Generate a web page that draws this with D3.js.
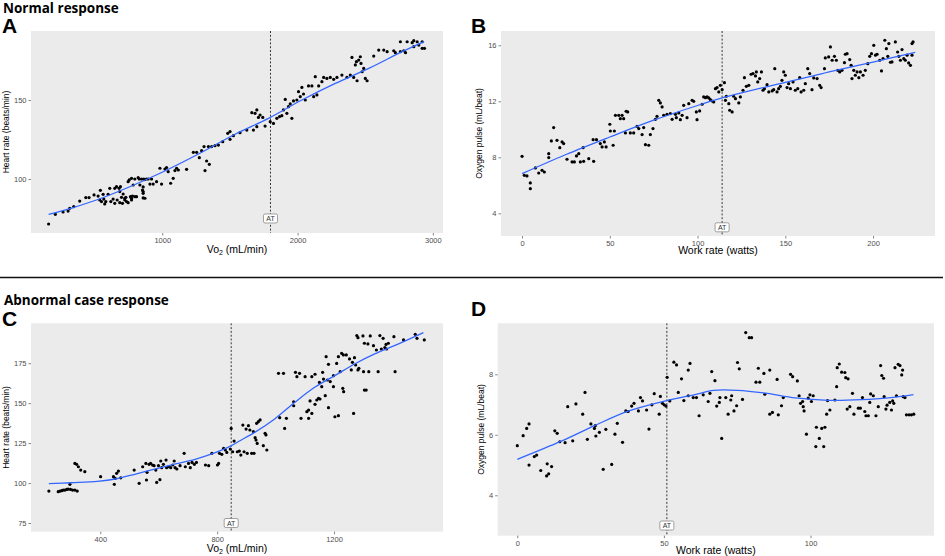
<!DOCTYPE html>
<html>
<head>
<meta charset="utf-8">
<script src="https://cdn.jsdelivr.net/npm/d3@7"></script>
<style>
  body { margin: 0; background: #fff; }
  svg { display: block; }
</style>
</head>
<body>
<svg id="chart" width="945" height="556"></svg>
<script>
// --- data ---
// A: VO2 (mL/min) vs heart rate (beats/min), normal response
const normalHrPoints = [
  [160,71.5],[210,77.6],[267,79.1],[304,79.7],[316,81.4],[346,82.5],[390,86],[435,88.2],[459,88.2],
  [496,89.9],[526,89.2],[543,92.8],[538,86.7],[551,85.7],[563,90.3],[568,87.3],[583,85.7],[575,84.2],
  [600,90.3],[612,94.1],[620,85.7],[637,87.3],[649,94.1],[649,84.6],[662,95.1],[667,86.7],[681,94.1],
  [686,92],[686,85],[691,95.1],[699,88.4],[706,84.6],[711,90.5],[723,86.7],[723,87.8],[731,88.4],
  [736,85.7],[748,98.3],[748,85],[756,99.4],[765,88.8],[773,86.7],[773,87.8],[773,100.4],[780,89.2],
  [785,96.2],[797,100],[798,88.8],[810,88.8],[822,100.8],[830,100],[835,96.2],[847,100],[854,93],
  [859,95],[859,92],[859,88],[859,90.9],[864,100],[870,99.6],[872,87.8],[884,100],[896,100],[909,96.8],
  [921,100],[933,96.8],[958,98.3],[983,106.8],[995,96.8],[1020,106.3],[1032,107.2],[1044,104.6],
  [1062,97.3],[1081,100.4],[1094,105.3],[1106,106.8],[1119,105.7],[1180,106.1],[1230,116.9],
  [1254,116.9],[1274,113.5],[1291,117.9],[1309,120.5],[1316,105.3],[1328,111.4],[1348,109.3],
  [1341,120.5],[1365,120.5],[1390,121.1],[1415,121.5],[1447,123.6],[1484,128.9],[1501,125.1],
  [1501,130],[1526,127.4],[1575,129.3],[1625,131],[1662,142],[1674,131],[1686,141.6],[1699,143.7],
  [1699,133.1],[1711,139],[1723,140.5],[1743,139],[1760,133.5],[1798,136.3],[1822,135.2],[1847,138.4],
  [1867,139.5],[1884,140.1],[1896,143.7],[1909,150.4],[1921,141.6],[1933,145.8],[1946,147.5],
  [1958,138.4],[1970,149.4],[1995,150],[2007,155.3],[2020,152.1],[2032,158],[2044,153.8],[2057,150],
  [2081,158.9],[2106,158.9],[2119,152.1],[2131,164.8],[2143,153.2],[2156,158.9],[2180,161.6],
  [2193,164.3],[2217,163.7],[2242,164.3],[2267,163.1],[2291,164.3],[2328,165.8],[2365,164.3],
  [2390,165.8],[2402,177],[2415,164.3],[2427,172.2],[2435,174.3],[2440,162.2],[2452,175.3],
  [2464,177.4],[2469,173.2],[2477,167.9],[2489,170],[2501,163.7],[2514,162.2],[2563,177.8],
  [2600,181.6],[2637,181.6],[2662,180.6],[2711,181.2],[2723,180],[2760,180.6],[2785,181.2],
  [2798,180],[2760,186.9],[2810,186.9],[2847,186.3],[2859,187.6],[2859,183.8],[2884,186.9],
  [2896,184.8],[2921,182.7],[2921,186.9],[2938,182.7]
];
const normalHrFit = [
  [160,77.6],[330,81.6],[514,86.7],[760,95.1],[1007,104.6],[1254,115.2],[1538,128.3],[1785,138.4],
  [2032,150],[2279,160.5],[2526,170],[2773,180.6],[2935,187]
];

// B: work rate (watts) vs oxygen pulse (mL/beat), normal response
const normalPulsePoints = [
  [0,8.07],[1.3,6.71],[2.8,6.67],[4.7,6.17],[4.7,5.76],[7.6,7.24],[9.5,6.88],[11.4,7.07],[12.7,6.95],
  [15.2,8.26],[15.2,7.98],[16.7,9.17],[18,10.12],[19.9,9.21],[21.5,8.69],[22.8,9.1],[23.7,8.98],
  [25.6,7.86],[28.5,7.67],[29.8,7.67],[31,8.1],[32.3,8.26],[33.2,7.67],[34.8,8.69],[35.1,7.71],
  [38,7.9],[40.5,9.26],[40.8,7.71],[42.4,9.26],[44.6,8.98],[45.6,8.74],[46.9,9.1],[47.9,8.74],
  [50,10.36],[50.3,9.88],[51.9,8.86],[52.6,9.88],[53.2,11],[55.1,11],[56,10.76],[57,11],[57.9,10.76],
  [58.9,9.74],[59.3,11.29],[60.2,11.24],[61.7,9.74],[63.6,9.74],[65.5,10.21],[66.5,10.05],[68.4,9.62],
  [69.3,10.12],[70.3,8.9],[72.2,8.86],[73.1,9.62],[74.6,10.05],[76,10.71],[76.9,10.93],[77.9,12.07],
  [78.8,11.88],[79.8,11.6],[80.7,11],[82.6,11.07],[84.5,11.12],[85.5,10.71],[87.4,11.07],[87.9,10.83],
  [89.3,11.17],[90.2,10.69],[91.2,11],[92.1,11.71],[94,10.83],[95,11.83],[96.9,12.07],[97.8,12],
  [99.3,11.24],[99.7,10.69],[101.2,11.31],[102.6,11.79],[103.5,12.31],[104.5,12.26],[105.4,12.31],
  [106.4,12.24],[107.3,12.12],[108.3,12.02],[109.2,11.95],[110.2,12.9],[111.1,12.98],[112.1,12.67],
  [113,13.14],[114,12.83],[115.3,13.33],[115.9,12.07],[116.4,12.36],[117.8,11.83],[118.3,11.36],
  [119.7,11.24],[120.6,12.36],[121.6,12.19],[123.5,11.88],[124.4,12.31],[125.9,12.79],[126.7,13.69],
  [127.8,13.07],[129.2,13.14],[130.5,13.93],[131.6,13.98],[133,13.81],[133.5,14.1],[134.3,13.38],
  [135.4,13.62],[136.4,14.1],[137.3,12.79],[138.1,12.9],[139.6,13.19],[140.6,12.67],[142.5,12.74],
  [143.4,12.83],[144,14.33],[145.3,12.67],[146.2,12.9],[147.2,13.07],[148.1,13.5],[149.1,14.1],
  [150,13.86],[151,12.98],[151.9,13.26],[152.9,12.9],[154.4,13.38],[155.7,12.79],[157.1,12.9],
  [158.2,13.69],[159,12.67],[160.5,12.79],[161.4,13.26],[162.8,14.33],[163.9,13.98],[165.2,12.83],
  [166.2,13.67],[168.1,13.62],[169.6,13.14],[170.4,12.98],[172.3,14.33],[172.8,15.1],[174.7,15.17],
  [175.7,15.88],[176.7,14.93],[178,15.21],[179.1,14.93],[179.9,14.21],[181,14.1],[182.3,14.21],
  [183.7,14.76],[184.2,15.36],[185.2,15.4],[186.7,14.98],[187.5,14.57],[188,13.62],[189,14.21],
  [189.9,13.86],[190.9,14.1],[191.9,13.69],[192.8,14.1],[194.3,13.86],[195.6,14.21],[197,14.69],
  [198.1,15.21],[199.1,15.4],[200.4,16],[201.4,15.29],[202.3,15.36],[203.8,14.93],[204.8,14.17],
  [205.7,15.05],[206.7,16.36],[207.6,15.76],[208.4,15.21],[209,16.12],[209.9,14.79],[210.8,14.81],
  [212.7,16.24],[214,15.52],[214.7,15.21],[215.6,14.93],[216.5,15.69],[217.5,15.05],[218.4,14.93],
  [219.4,15.29],[220.3,14.74],[221.3,14.57],[222.2,16.12],[222.8,16.24],[222.2,15.29]
];
const normalPulseFit = [
  [0,6.83],[25,8.2],[50,9.45],[75,10.65],[100,11.7],[113,12.2],[125,12.6],[150,13.35],[167,13.85],
  [175,14.1],[200,14.8],[224,15.5]
];

// C: VO2 (mL/min) vs heart rate (beats/min), abnormal case
const abnormalHrPoints = [
  [224,95],[256,94.6],[262,95],[268,95.2],[273,95.6],[279,95.6],[285,96],[290,96.2],[296,99.2],[298,96],
  [305,95.6],[313,95.6],[321,95],[313,112.3],[319,111.7],[325,110.2],[333,108.1],[347,107.1],[401,104],
  [445,104],[448,99.2],[451,102.9],[456,106.1],[462,107.5],[470,103.3],[516,108.1],[533,99.8],
  [545,110.2],[556,112.3],[558,101.9],[560,106.7],[567,111.7],[572,112.3],[579,111.3],[584,110.9],
  [590,108.1],[593,100.4],[599,110.9],[604,102.1],[607,113.8],[610,109.6],[616,111.7],[625,114.4],
  [627,109.6],[633,110.2],[641,109.6],[648,111.3],[653,113.8],[656,109.6],[662,108.8],[673,110.9],
  [687,118.6],[691,110.2],[702,112.3],[708,109.6],[714,112.9],[722,111.7],[729,112.9],[760,111.3],
  [771,110.9],[782,118.6],[801,111.3],[805,112.3],[808,118.6],[816,118],[822,121.7],[828,120.7],
  [833,119.2],[845,121.3],[848,134.2],[853,119.6],[858,126.3],[869,119.6],[876,120],[881,117.5],
  [888,136.3],[892,119.6],[899,133.8],[903,118.6],[907,135.9],[912,133.2],[918,118.6],[924,132.2],
  [926,118.6],[930,128.4],[933,126.9],[935,137.4],[937,124.8],[941,138.4],[947,139.5],[958,123.4],
  [964,131.1],[967,130.1],[970,120.7],[1010,168.7],[1014,140.9],[1027,168.7],[1031,134.2],
  [1037,140.5],[1062,150.9],[1062,148.4],[1068,169.3],[1073,166.6],[1082,168.7],[1087,140.5],
  [1101,166.6],[1107,144.7],[1113,140.5],[1113,145.7],[1118,151.4],[1124,143.6],[1124,166.6],
  [1135,168.1],[1135,149.3],[1141,152],[1147,153],[1150,163],[1152,152.6],[1158,160.3],[1161,169.3],
  [1164,165.1],[1170,154.7],[1173,179.1],[1177,164.5],[1181,147.2],[1181,174.3],[1187,163.5],
  [1198,160.3],[1198,167.2],[1203,141.5],[1209,174.9],[1215,142.2],[1215,179.1],[1221,169.7],
  [1226,181.2],[1230,159.3],[1232,180.2],[1233,157.2],[1242,180.2],[1253,177.7],[1259,170.8],
  [1263,175.6],[1267,143.6],[1270,178.5],[1274,173.9],[1278,192.3],[1282,191],[1282,170.8],
  [1285,171.8],[1299,192.1],[1301,169.7],[1304,187.5],[1304,158.2],[1310,158.2],[1316,187.1],
  [1319,169.7],[1324,192.1],[1335,186],[1345,183.3],[1351,169.7],[1357,192.3],[1362,183.9],
  [1368,190.6],[1374,184.8],[1378,186.8],[1380,183.9],[1386,187.5],[1405,191.6],[1409,169.7],
  [1438,189.6],[1478,193.1],[1484,190.6],[1509,189.6]
];
const abnormalHrFit = [
  [224,99.6],[300,100.2],[390,101],[456,102.7],[524,105.8],[593,109],[661,112.1],[730,115.2],
  [798,119.4],[844,123],[878,126.5],[930,131.9],[998,140.3],[1067,150.7],[1135,160.1],[1204,167.4],
  [1272,174.7],[1341,181],[1409,186.2],[1506,194.2]
];

// D: work rate (watts) vs oxygen pulse (mL/beat), abnormal case
const abnormalPulsePoints = [
  [0,5.64],[2,5.97],[3.2,6.21],[4,6.36],[4,5],[5.8,5.28],[6.6,5.33],[8,4.82],[10,4.64],[10.2,5.04],
  [10.7,4.71],[11.7,4.95],[12.8,6.13],[13.6,6.05],[14.5,5.77],[16.3,5.74],[17.2,6.93],[18.9,5.8],
  [20,7.02],[22.3,6.68],[23.1,7.4],[23.9,5.85],[25.1,6.36],[26.3,6.21],[26.6,6.3],[26.8,5.96],[28,6.08],
  [29.3,4.86],[30.2,6.18],[32.2,5.02],[33.3,6.02],[34.1,6.38],[35.9,5.75],[37,6.79],[37.8,6.77],
  [39,6.95],[39.8,7.04],[41.3,6.79],[42,7.23],[42.7,7.12],[44.1,6.82],[44.9,6.19],[45.9,6.99],
  [46.7,7.36],[48.4,6.68],[48.8,7.27],[49.5,7.04],[50.1,6.99],[50.7,6.95],[51.1,7.9],[52,7.12],
  [53.4,8.4],[54.3,8.31],[54.9,7.4],[56,7.85],[56.8,7.13],[58.3,8.14],[58.9,8.36],[58.3,7.29],
  [60,7.23],[61.1,7.23],[62,6.63],[63.4,7.32],[65.1,7.1],[65.7,7.37],[66.3,8.09],[67.4,7.79],
  [68,6.95],[68.9,7.07],[69.1,7.23],[69.7,5.88],[71.1,7.23],[71.9,6.68],[72.8,7.15],[73.1,7.29],
  [73.9,6.79],[74.8,6.96],[75.1,8.39],[75.7,8.18],[76.8,7.17],[77.9,9.38],[79.1,9.21],[79.9,9.21],
  [81.4,7.74],[82.2,8.2],[82.7,7.74],[84.1,8.03],[84.4,7.34],[86.1,8.14],[86.1,6.68],[87,6.74],
  [88.6,7.83],[89,6.66],[90.1,6.96],[90.7,7.23],[93.2,8],[93.9,7.92],[95.5,7.78],[96.1,7.29],
  [96.6,7.04],[97.3,7.1],[97.5,6.93],[97.8,6.79],[98.6,6.02],[99.2,7.21],[99.8,7.32],[100.3,7.1],
  [100.9,7.29],[101.8,5.61],[102,6.25],[103,5.88],[103.8,6.21],[104.5,5.61],[104.9,6.25],[105.5,6.68],
  [105.8,7.13],[106.6,6.82],[108.3,7.15],[108.9,7.59],[109.1,8.22],[109.8,8.34],[110.6,8.07],
  [111.7,8.06],[112,7.89],[112.8,7.85],[112.5,6.85],[113.4,6.93],[114.3,7.37],[114.8,6.68],
  [116.3,6.88],[117,6.88],[117.7,7.23],[118.5,6.77],[118.9,6.63],[119.7,6.63],[120.2,7.07],
  [120.5,7.35],[121.4,7.29],[122.3,6.63],[123.1,6.93],[123.9,8.29],[124.3,7.96],[124.9,7.87],
  [125.1,7.26],[125.7,6.85],[126.1,6.98],[127,7.07],[127.6,6.82],[128,7.12],[128.4,7.04],[128.8,8.22],
  [129.3,7.29],[129.9,8.33],[130.5,8.29],[131.1,7.98],[131.4,8.14],[131.6,7.26],[132.2,7.23],
  [132.7,6.66],[133.6,6.66],[134.4,6.66],[135.2,6.68]
];
const abnormalPulseFit = [
  [0,5.19],[15,5.79],[26.5,6.31],[37.8,6.78],[49.2,7.09],[60.6,7.33],[67,7.47],[75,7.47],[84.5,7.38],
  [94.8,7.22],[106,7.14],[117.5,7.16],[126.6,7.22],[135.1,7.33]
];

// anaerobic threshold (AT) positions
const normalAtVo2 = 1800;
const normalAtWatts = 114;
const abnormalAtVo2 = 848;
const abnormalAtWatts = 51;

// axis ticks
const normalVo2Ticks = [1000, 2000, 3000];
const normalHrTicks = [100, 150];
const normalWattTicks = [0, 50, 100, 150, 200];
const normalPulseTicks = [4, 8, 12, 16];
const abnormalVo2Ticks = [400, 800, 1200];
const abnormalHrTicks = [75, 100, 125, 150, 175];
const abnormalWattTicks = [0, 50, 100];
const abnormalPulseTicks = [4, 6, 8];

const svg = d3.select("#chart")
const sansFont = "'Liberation Sans', Arial, sans-serif"

function drawPanel(p) {
  const x = d3.scaleLinear().domain(p.xDomain).range([p.left, p.right])
  const y = d3.scaleLinear().domain(p.yDomain).range([p.bottom, p.top])
  const g = svg.append("g")

  g.append("rect")
      .attr("x", p.left)
      .attr("y", p.top)
      .attr("width", p.right - p.left)
      .attr("height", p.bottom - p.top)
      .attr("fill", "#ebebeb")

  const xAxis = g.append("g")
      .attr("transform", `translate(0,${p.bottom})`)
      .call(d3.axisBottom(x).tickValues(p.xTicks).tickSize(2.5).tickPadding(2).tickFormat(d3.format("d")))
  const yAxis = g.append("g")
      .attr("transform", `translate(${p.left},0)`)
      .call(d3.axisLeft(y).tickValues(p.yTicks).tickSize(2.5).tickPadding(2).tickFormat(d3.format("d")))

  for (const ax of [xAxis, yAxis]) {
    ax.select(".domain").remove()
    ax.selectAll(".tick line").attr("stroke", "#333").attr("stroke-width", 0.6)
    ax.selectAll(".tick text")
        .attr("fill", "#4d4d4d")
        .style("font-family", sansFont)
        .style("font-size", "7.5px")
  }

  // AT line
  g.append("line")
      .attr("x1", x(p.at)).attr("x2", x(p.at))
      .attr("y1", p.top).attr("y2", p.bottom)
      .attr("stroke", "#222")
      .attr("stroke-width", 0.9)
      .attr("stroke-dasharray", "2,1.8")

  g.append("g").selectAll("circle")
      .data(p.points)
      .join("circle")
      .attr("cx", d => x(d[0]))
      .attr("cy", d => y(d[1]))
      .attr("r", 1.6)
      .attr("fill", "#000")

  const line = d3.line()
      .x(d => x(d[0]))
      .y(d => y(d[1]))
      .curve(d3.curveCatmullRom.alpha(0.5))

  g.append("path")
      .datum(p.fit)
      .attr("d", line)
      .attr("fill", "none")
      .attr("stroke", "#3366ff")
      .attr("stroke-width", 1.3)

  // AT label
  const lx = x(p.at), ly = y(p.atLabelY)
  g.append("rect")
      .attr("x", lx - 7).attr("y", ly - 4.5)
      .attr("width", 14).attr("height", 9)
      .attr("rx", 1.5)
      .attr("fill", "#fff")
      .attr("stroke", "#666")
      .attr("stroke-width", 0.6)
  g.append("text")
      .attr("x", lx).attr("y", ly + 2.6)
      .attr("text-anchor", "middle")
      .attr("fill", "#333")
      .style("font-family", sansFont)
      .style("font-size", "7px")
      .text("AT")

  // axis titles
  const xt = g.append("text")
      .attr("x", (p.left + p.right) / 2)
      .attr("y", p.xTitleY)
      .attr("text-anchor", "middle")
      .style("font-family", sansFont)
      .style("font-size", "10.5px")
  if (p.vo2) {
    xt.append("tspan").text("Vo")
    xt.append("tspan").attr("dy", 2).style("font-size", "7px").text("2")
    xt.append("tspan").attr("dy", -2).text(" (mL/min)")
  } else {
    xt.text(p.xTitle)
  }

  g.append("text")
      .attr("transform", `translate(${p.yTitleX},${(p.top + p.bottom) / 2}) rotate(-90)`)
      .attr("text-anchor", "middle")
      .style("font-family", sansFont)
      .style("font-size", "8.5px")
      .text(p.yTitle)

  g.append("text")
      .attr("x", p.tagX).attr("y", p.tagY)
      .style("font-family", sansFont)
      .style("font-weight", "bold")
      .style("font-size", "21px")
      .text(p.tag)
}

drawPanel({
  tag: "A", tagX: 2, tagY: 33,
  left: 31, right: 443, top: 31, bottom: 233,
  xDomain: [30, 3075], yDomain: [65.8, 193.7],
  xTicks: normalVo2Ticks, yTicks: normalHrTicks,
  points: normalHrPoints, fit: normalHrFit,
  at: normalAtVo2, atLabelY: 75,
  vo2: true, xTitleY: 253, yTitle: "Heart rate (beats/min)", yTitleX: 9
})
drawPanel({
  tag: "B", tagX: 471, tagY: 33,
  left: 501, right: 935, top: 31, bottom: 236,
  xDomain: [-12, 235.3], yDomain: [2.38, 17.02],
  xTicks: normalWattTicks, yTicks: normalPulseTicks,
  points: normalPulsePoints, fit: normalPulseFit,
  at: normalAtWatts, atLabelY: 3,
  xTitle: "Work rate (watts)", xTitleY: 254, yTitle: "Oxygen pulse (mL/beat)", yTitleX: 482
})
drawPanel({
  tag: "C", tagX: 2, tagY: 326,
  left: 31, right: 443, top: 323.3, bottom: 531.7,
  xDomain: [162.8, 1573], yDomain: [69.55, 200],
  xTicks: abnormalVo2Ticks, yTicks: abnormalHrTicks,
  points: abnormalHrPoints, fit: abnormalHrFit,
  at: abnormalAtVo2, atLabelY: 75,
  vo2: true, xTitleY: 552, yTitle: "Heart rate (beats/min)", yTitleX: 9
})
drawPanel({
  tag: "D", tagX: 471, tagY: 316,
  left: 497.7, right: 934, top: 323.3, bottom: 535.7,
  xDomain: [-6.68, 142.1], yDomain: [2.664, 9.686],
  xTicks: abnormalWattTicks, yTicks: abnormalPulseTicks,
  points: abnormalPulsePoints, fit: abnormalPulseFit,
  at: abnormalAtWatts, atLabelY: 3,
  xTitle: "Work rate (watts)", xTitleY: 554, yTitle: "Oxygen pulse (mL/beat)", yTitleX: 484
})

// section headings and separator
svg.append("text")
    .attr("x", 3).attr("y", 13)
    .style("font-family", "'Open Sans', sans-serif")
    .style("font-weight", "bold")
    .style("font-size", "13.5px")
    .text("Normal response")

svg.append("line")
    .attr("x1", 0).attr("x2", 943)
    .attr("y1", 277.5).attr("y2", 277.5)
    .attr("stroke", "#111")
    .attr("stroke-width", 1.6)

svg.append("text")
    .attr("x", 4).attr("y", 305)
    .style("font-family", "'Open Sans', sans-serif")
    .style("font-weight", "bold")
    .style("font-size", "13.5px")
    .text("Abnormal case response")
</script>
</body>
</html>
